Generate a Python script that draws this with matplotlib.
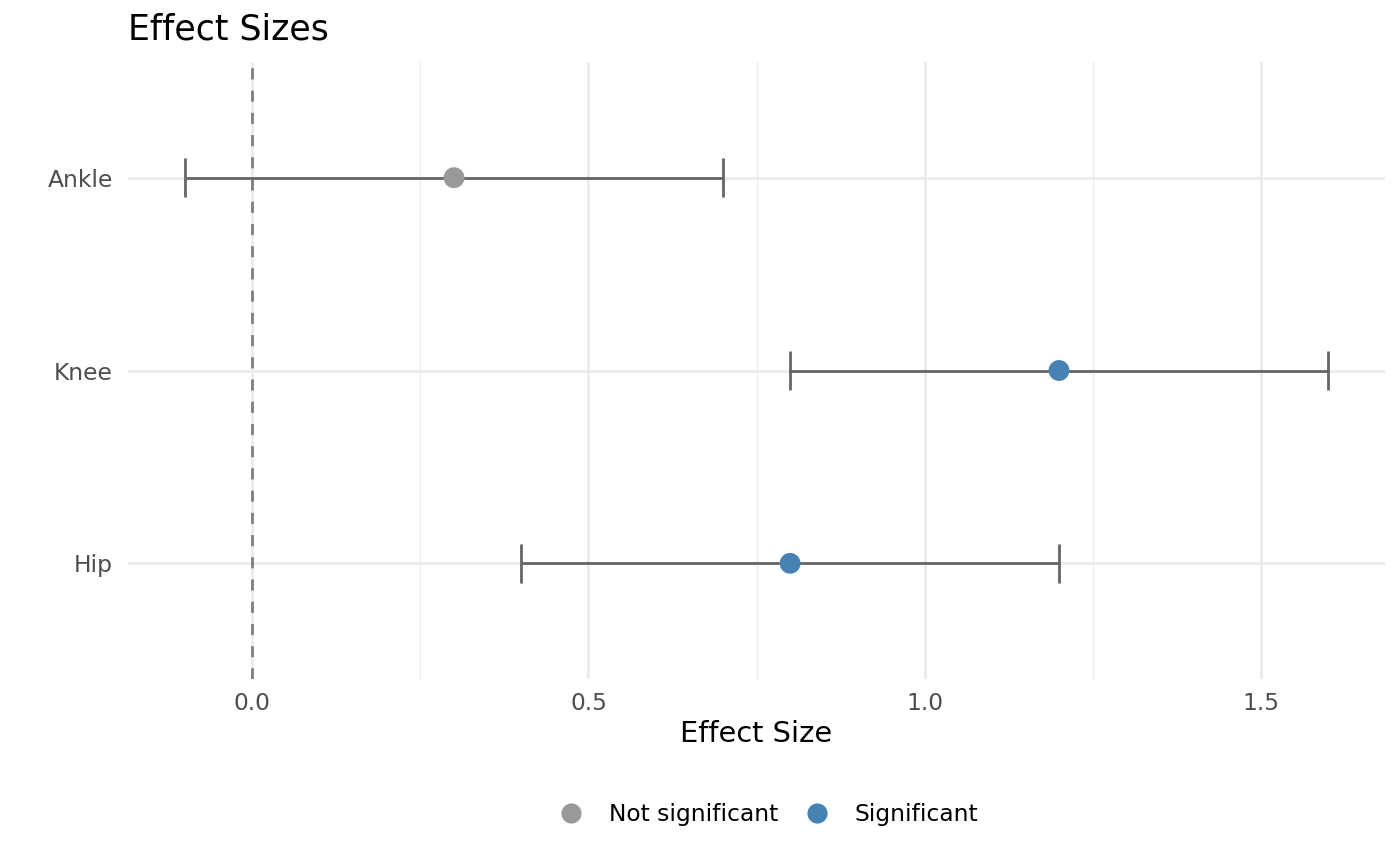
import numpy as np
import matplotlib
matplotlib.use("Agg")
import matplotlib.pyplot as plt
from matplotlib.lines import Line2D

# datos (de abajo hacia arriba)
articulaciones = ["Hip", "Knee", "Ankle"]
efecto = [0.8, 1.2, 0.3]
ic_inf = [0.4, 0.8, -0.1]
ic_sup = [1.2, 1.6, 0.7]
significativo = [True, True, False]

col_sig = "#4682B4"
col_nosig = "#999999"

plt.rcParams['font.family'] = ['DejaVu Sans']

fig = plt.figure(figsize=(14, 8.66), dpi=100)
ax = fig.add_axes([128/1400, 1 - 679/866, (1385-128)/1400, (679-62)/866])

y = np.arange(1, len(articulaciones) + 1)

# rejilla tipo theme_minimal
for xv in [0.0, 0.5, 1.0, 1.5]:
    ax.axvline(xv, color="#EBEBEB", lw=2.0, zorder=0)
for xv in [0.25, 0.75, 1.25]:
    ax.axvline(xv, color="#EBEBEB", lw=1.0, zorder=0)
for yv in y:
    ax.axhline(yv, color="#EBEBEB", lw=2.0, zorder=0)

# linea de referencia
ax.axvline(0, color="#7F7F7F", lw=2.0, ls=(0, (4, 4)), zorder=1)

# barras de error
for yi, lo, hi in zip(y, ic_inf, ic_sup):
    ax.plot([lo, hi], [yi, yi], color="#666666", lw=2.0, zorder=2, solid_capstyle='butt')
    for xc in (lo, hi):
        ax.plot([xc, xc], [yi - 0.1, yi + 0.1], color="#666666", lw=2.0, zorder=2, solid_capstyle='butt')

colores = [col_sig if s else col_nosig for s in significativo]
ax.scatter(efecto, y, s=225, c=colores, zorder=3, linewidths=0)

ax.set_xlim(-0.185, 1.685)
ax.set_ylim(0.4, 3.6)
ax.set_xticks([0.0, 0.5, 1.0, 1.5])
ax.set_xticklabels(["0.0", "0.5", "1.0", "1.5"])
ax.set_yticks(y)
ax.set_yticklabels(articulaciones)
ax.tick_params(length=0, labelsize=16.8, labelcolor="#4D4D4D")
ax.tick_params(axis='y', pad=11)
ax.tick_params(axis='x', pad=9)
for s in ax.spines.values():
    s.set_visible(False)

ax.set_xlabel("Effect Size", fontsize=20.8, labelpad=4)
fig.text(128/1400, 1 - 30/866, "Effect Sizes", fontsize=25, ha='left', va='center')

handles = [
    Line2D([], [], ls='none', marker='o', markersize=14.5, color=col_nosig, markeredgewidth=0),
    Line2D([], [], ls='none', marker='o', markersize=14.5, color=col_sig, markeredgewidth=0),
]
fig.legend(handles, ["Not significant", "Significant"], ncol=2, loc='center',
           bbox_to_anchor=(769/1400, 1 - 815/866), frameon=False, fontsize=16.8,
           handletextpad=1.1, columnspacing=1.2, handlelength=1.0)

fig.savefig("out.png", dpi=100)
